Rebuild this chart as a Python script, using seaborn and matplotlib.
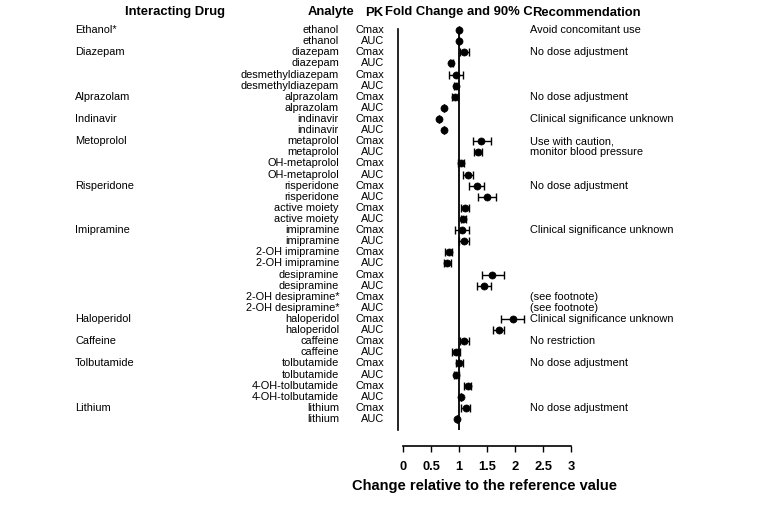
import numpy as np
import pandas as pd
import matplotlib
matplotlib.use("Agg")
import matplotlib.pyplot as plt
import seaborn as sns
from matplotlib.transforms import blended_transform_factory

# ---------------- data ----------------
interacting = (["Ethanol*"] * 2 + ["Diazepam"] * 4 + ["Alprazolam"] * 2 + ["Indinavir"] * 2 +
               ["Metoprolol"] * 4 + ["Risperidone"] * 4 + ["Imipramine"] * 8 +
               ["Haloperidol"] * 2 + ["Caffeine"] * 2 + ["Tolbutamide"] * 4 + ["Lithium"] * 2)
analytes = ["ethanol", "ethanol", "diazepam", "diazepam", "desmethyldiazepam", "desmethyldiazepam",
            "alprazolam", "alprazolam", "indinavir", "indinavir", "metaprolol", "metaprolol",
            "OH-metaprolol", "OH-metaprolol", "risperidone", "risperidone", "active moiety", "active moiety",
            "imipramine", "imipramine", "2-OH imipramine", "2-OH imipramine", "desipramine", "desipramine",
            "2-OH desipramine*", "2-OH desipramine*", "haloperidol", "haloperidol", "caffeine", "caffeine",
            "tolbutamide", "tolbutamide", "4-OH-tolbutamide", "4-OH-tolbutamide", "lithium", "lithium"]
pk = ["Cmax", "AUC"] * 18
fold = [1.00, 1.00, 1.09, 0.86, 0.94, 0.94, 0.92, 0.72, 0.645, 0.73,
        1.39, 1.33, 1.03, 1.16, 1.31, 1.50, 1.10, 1.07, 1.05, 1.08,
        0.81, 0.78, 1.59, 1.44, np.nan, np.nan, 1.96, 1.71, 1.09, 0.95,
        1.00, 0.95, 1.15, 1.03, 1.12, 0.96]
ci_low = [1.00, 1.00, 1.01, 0.83, 0.81, 0.91, 0.87, 0.72, 0.645, 0.73,
          1.24, 1.26, 0.98, 1.07, 1.18, 1.34, 1.04, 1.03, 0.93, 0.99,
          0.74, 0.72, 1.40, 1.32, np.nan, np.nan, 1.75, 1.61, 1.01, 0.88,
          0.94, 0.90, 1.09, 1.03, 1.04, 0.96]
ci_high = [1.00, 1.00, 1.18, 0.89, 1.07, 0.98, 0.98, 0.72, 0.645, 0.73,
           1.57, 1.41, 1.09, 1.25, 1.44, 1.66, 1.18, 1.12, 1.18, 1.17,
           0.88, 0.85, 1.81, 1.57, np.nan, np.nan, 2.16, 1.81, 1.18, 1.02,
           1.06, 1.00, 1.22, 1.03, 1.19, 0.96]
recommendation = ["Avoid concomitant use", "", "No dose adjustment", "", "", "",
                  "No dose adjustment", "", "Clinical significance unknown", "",
                  "Use with caution,", "monitor blood pressure", "", "", "No dose adjustment", "",
                  "", "", "Clinical significance unknown", "", "", "", "", "",
                  "(see footnote)", "(see footnote)", "Clinical significance unknown", "",
                  "No restriction", "", "No dose adjustment", "", "", "", "No dose adjustment", ""]
xticks = [0, 0.5, 1, 1.5, 2, 2.5, 3]
xtick_labels = ["0", "0.5", "1", "1.5", "2", "2.5", "3"]

df = pd.DataFrame({"drug": interacting, "analyte": analytes, "pk": pk,
                   "fold": fold, "lo": ci_low, "hi": ci_high, "rec": recommendation})
df["row"] = np.arange(len(df))

# ---------------- figure ----------------
sns.set_theme(style="white")
plt.rcParams["font.family"] = ["Liberation Sans", "DejaVu Sans"]
plt.rcParams["text.color"] = "black"
plt.rcParams["axes.labelcolor"] = "black"
plt.rcParams["xtick.color"] = "black"

W, H = 783, 514
fig = plt.figure(figsize=(W / 100, H / 100), dpi=100)
ax = fig.add_axes([397.7 / W, 1 - 430 / H, 173.3 / W, 401 / H])

# error bars
eb = ax.errorbar(df["fold"], df["row"],
                 xerr=[df["fold"] - df["lo"], df["hi"] - df["fold"]],
                 fmt="none", ecolor="black", elinewidth=1.0, capsize=3, capthick=1.0, zorder=2)
for art in eb.lines[1] + eb.lines[2]:
    art.set_clip_on(False)
sns.scatterplot(data=df, x="fold", y="row", ax=ax, color="black", s=26,
                edgecolor="black", linewidth=0.5, zorder=3, legend=False, clip_on=False)

ax.axvline(1, color="black", lw=1.3, zorder=1)

ax.set_xlim(-0.1, 3.0)
ax.set_ylim(35.99, -0.1)

for s in ["top", "right"]:
    ax.spines[s].set_visible(False)
ax.spines["left"].set_color("black")
ax.spines["left"].set_linewidth(1.2)
ax.spines["bottom"].set_color("black")
ax.spines["bottom"].set_linewidth(1.2)
ax.spines["bottom"].set_position(("outward", 11.3))
ax.spines["bottom"].set_bounds(0, 3)

ax.set_xticks(xticks)
ax.set_xticklabels(xtick_labels, fontsize=9.3, fontweight="bold", color="black")
ax.tick_params(axis="x", direction="out", length=4.3, width=1.0, color="black", pad=7, bottom=True)
ax.tick_params(axis="y", left=False, labelleft=False)
ax.set_ylabel("")
ax.set_xlabel("Change relative to the reference value", fontsize=10.5, fontweight="bold", color="black")
ax.xaxis.set_label_coords(0.5, -0.122)

# row texts
trans = blended_transform_factory(fig.transFigure, ax.transData)
fs = 7.9
prev = None
for r, d in zip(df["row"], df["drug"]):
    if d != prev:
        ax.text(75 / W, r, d, transform=trans, ha="left", va="center", fontsize=fs, color="black")
    prev = d
for r, a, p, rec in zip(df["row"], df["analyte"], df["pk"], df["rec"]):
    ax.text(339 / W, r, a, transform=trans, ha="right", va="center", fontsize=fs, color="black")
    ax.text(384 / W, r, p, transform=trans, ha="right", va="center", fontsize=fs, color="black")
    if rec:
        ax.text(530 / W, r, rec, transform=trans, ha="left", va="center", fontsize=fs, color="black")

# headers
hy = 1 - 12.5 / H
hfs = 9.4
fig.text(175 / W, hy, "Interacting Drug", ha="center", va="center", fontsize=hfs, fontweight="bold")
fig.text(308 / W, hy, "Analyte", ha="left", va="center", fontsize=hfs, fontweight="bold")
fig.text(383 / W, hy, "PK", ha="right", va="center", fontsize=hfs, fontweight="bold")
fig.text(385 / W, hy, "Fold Change and 90% CI", ha="left", va="center", fontsize=hfs, fontweight="bold")
fig.text(532 / W, hy, "Recommendation", ha="left", va="center", fontsize=hfs, fontweight="bold",
         bbox=dict(facecolor="white", edgecolor="none", pad=0.3), zorder=5)

fig.savefig("out.png", dpi=100)
